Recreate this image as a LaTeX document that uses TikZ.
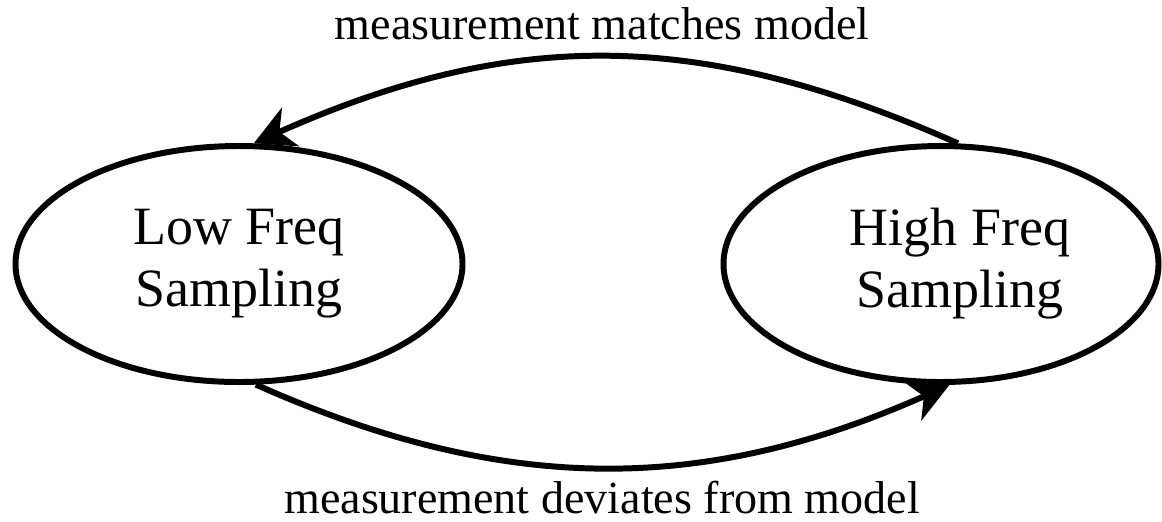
\documentclass[tikz,border=0pt]{standalone}
\usepackage{fontspec}
\setmainfont{Liberation Serif}
\usetikzlibrary{arrows.meta,shapes.geometric}
\tikzset{
    estado/.style={
        ellipse,
        draw,
        line width=3.4pt,
        align=center,
        inner sep=0pt,
        minimum height=4.72cm,
        font=\fontsize{30.7}{35.3}\selectfont
    },
    fluxo/.style={-{Stealth[length=8mm, width=8.4mm, inset=2.4mm]}, line width=3.4pt},
    rotulo/.style={anchor=base, inner sep=0pt, font=\fontsize{26.2}{30}\selectfont}
}

\begin{document}
\begin{tikzpicture}[x=0.2mm, y=-0.2mm]
    \useasboundingbox (0,0) rectangle (1162,521);

    \node[estado, minimum width=8.94cm] (lowfreq) at (239,264) {Low Freq\\Sampling};
    \node[estado, minimum width=8.7cm] (highfreq) at (941,264)
        {\hspace*{7.6mm}High Freq\\\hspace*{7.6mm}Sampling};

    \node[rotulo] (matches) at (602,39) {measurement matches model};
    \node[rotulo] (deviates) at (602,513) {measurement deviates from model};

    \draw[fluxo] (highfreq.82) to[out=156, in=24, looseness=1.03] (lowfreq.83);
    \draw[fluxo] (lowfreq.-82) to[out=-24, in=204, looseness=1.0] (highfreq.-86);
\end{tikzpicture}
\end{document}
